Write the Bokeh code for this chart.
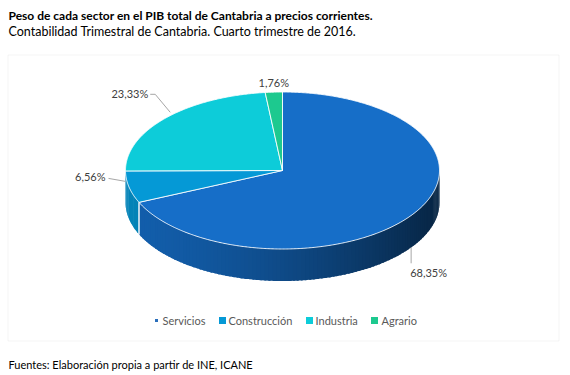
import numpy as np
from bokeh.plotting import figure
from bokeh.models import Range1d, Label, BoxAnnotation
from bokeh.core.properties import value
from bokeh.embed import file_html
from bokeh.resources import INLINE

# ---------------- data ----------------
sectors = ["Servicios", "Construcción", "Industria", "Agrario"]
shares = [68.35, 6.56, 23.33, 1.76]
share_labels = ["68,35%", "6,56%", "23,33%", "1,76%"]

title_text = "Peso de cada sector en el PIB total de Cantabria a precios corrientes."
subtitle_text = "Contabilidad Trimestral de Cantabria. Cuarto trimestre de 2016."
source_text = "Fuentes: Elaboración propia a partir de INE, ICANE"

# ---------------- styles / layout ----------------
colors = ["#166EC8", "#0599D6", "#0DCCD9", "#1DC98F"]
legend_marker_colors = ["#2A6EBB", "#0599D6", "#0DCCD9", "#1DC98F"]
legend_marker_sizes = [3, 7, 7, 7]
legend_marker_x = [156, 222, 309, 374]
legend_text_x = [162, 228, 315, 381]
LEGEND_Y = 320
FONT = "Lato"

W, H = 570, 375
CX, CY, RX, RY, DEPTH = 282.0, 170.0, 157.0, 78.5, 32.0

p = figure(width=W, height=H, x_range=Range1d(0, W), y_range=Range1d(H, 0),
           toolbar_location=None, output_backend="svg", min_border=0,
           x_axis_location=None, y_axis_location=None)
p.grid.visible = False
p.outline_line_color = None
p.background_fill_color = "white"
p.border_fill_color = "white"


def pt(theta_deg, dy=0.0):
    t = np.radians(theta_deg)
    return CX + RX * np.cos(t), CY - RY * np.sin(t) + dy


def hex_to_rgb(h):
    h = h.lstrip("#")
    return tuple(int(h[i:i + 2], 16) for i in (0, 2, 4))


def shade(h, f):
    r, g, b = hex_to_rgb(h)
    return "#%02x%02x%02x" % (int(r * f), int(g * f), int(b * f))


total = float(sum(shares))
bounds = []
cum = 0.0
for v in shares:
    a0 = 90.0 - 360.0 * cum / total
    cum += v
    a1 = 90.0 - 360.0 * cum / total
    bounds.append((a0, a1))

# chart frame
p.add_layout(BoxAnnotation(left=7.5, right=558.5, top=54.5, bottom=340.5,
                           fill_color=None, line_color="#D9D9D9", line_width=1))

# ---------------- side walls (front half) ----------------
sxs, sys, scol = [], [], []
for (a0, a1), c in zip(bounds, colors):
    lo = max(a1, -180.0)
    hi = min(a0, 0.0)
    if hi <= lo:
        continue
    n = max(2, int((hi - lo) / 1.5) + 1)
    edges = np.linspace(lo, hi, n + 1)
    step = edges[1] - edges[0]
    for t0, t1 in zip(edges[:-1], edges[1:]):
        t1e = min(hi, t1 + 0.5 * step)  # small overlap to hide seams
        ts = np.linspace(t0, t1e, 4)
        top = [pt(t) for t in ts]
        bot = [pt(t, DEPTH) for t in ts[::-1]]
        xs = [q[0] for q in top] + [q[0] for q in bot]
        ys = [q[1] for q in top] + [q[1] for q in bot]
        tm = np.radians((t0 + t1) / 2)
        u = (np.cos(tm) + 1) / 2
        f = 0.86 - 0.52 * u ** 1.5
        sxs.append(xs)
        sys.append(ys)
        scol.append(shade(c, f))
p.patches(sxs, sys, fill_color=scol, line_color=None)

# white vertical edges on the side at slice boundaries
for (a0, a1) in bounds:
    for a in (a0, a1):
        if -179.0 < a < -1.0:
            x0, y0 = pt(a)
            x1, y1 = pt(a, DEPTH)
            p.line([x0, x1], [y0, y1], line_color="white", line_width=1, line_alpha=0.9)

# ---------------- top face ----------------
txs, tys = [], []
for (a0, a1) in bounds:
    ts = np.linspace(a0, a1, max(3, int(abs(a0 - a1) * 2)))
    pts = [pt(t) for t in ts]
    txs.append([CX] + [q[0] for q in pts])
    tys.append([CY] + [q[1] for q in pts])
p.patches(txs, tys, fill_color=colors, line_color="white", line_width=1, line_alpha=0.85)

# ---------------- data labels ----------------
label_offsets = [  # (dx, dy, align, leader offsets) relative to rim point at mid-angle
    (-4, 59, "left", [(-3, 34), (-3, 50)]),
    (-23.5, -10, "right", [(-3.5, -5.6), (-20.5, -8.6)]),
    (-17, -25, "right", [(5, -6), (-10, -24), (-15, -24)]),
    (0, -10, "center", []),
]
for (a0, a1), lab, (dx, dy, al, lead) in zip(bounds, share_labels, label_offsets):
    ax, ay = pt((a0 + a1) / 2)
    if lead:
        p.line([ax + q[0] for q in lead], [ay + q[1] for q in lead],
               line_color="#A6A6A6", line_width=1)
    p.text(x=[ax + dx], y=[ay + dy], text=[lab], text_align=al, text_baseline="middle",
           text_font=value(FONT), text_font_size="11px", text_color="#404040")

# ---------------- legend ----------------
p.scatter(x=legend_marker_x, y=[LEGEND_Y] * 4, marker="square", size=legend_marker_sizes,
          fill_color=legend_marker_colors, line_color=None)
p.text(x=legend_text_x, y=[LEGEND_Y] * 4, text=sectors, text_align="left", text_baseline="middle",
       text_font=value(FONT), text_font_size="11px", text_color="#595959")

# ---------------- titles ----------------
p.add_layout(Label(x=8, y=15, text=title_text, text_font=FONT, text_font_size="12px",
                   text_font_style="bold", text_color="#000000", text_baseline="middle"))
p.add_layout(Label(x=8, y=31, text=subtitle_text, text_font=FONT, text_font_size="12.5px",
                   text_color="#000000", text_baseline="middle"))
p.add_layout(Label(x=8, y=364, text=source_text, text_font=FONT, text_font_size="11px",
                   text_color="#000000", text_baseline="middle"))

open("out.html", "w").write(file_html(p, INLINE))
